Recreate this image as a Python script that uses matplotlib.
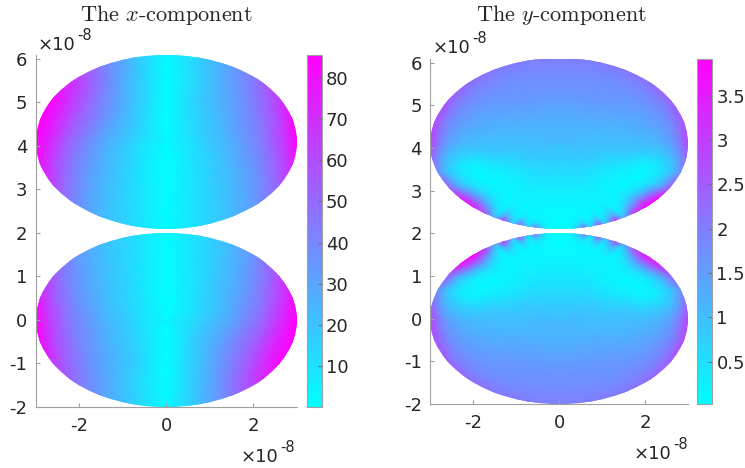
"""Two field components on a pair of ellipses, with cool colorbars."""

import matplotlib

matplotlib.use("Agg")
import matplotlib.pyplot as plt
from matplotlib.patches import Ellipse
import numpy as np

W, H = 745, 468

# grid the fields are read on: angle around the ellipse (deg) and scaled radius
x_angles = [-90, -75, -60, -45, -30, -15, 0, 15, 30, 45, 60, 75, 90]
x_radii = [0, 0.25, 0.5, 0.75, 0.9, 1]

x_right = [
  [1, 1, 1, 1, 1, 1],
  [1, 3, 6, 9, 11, 12],
  [1, 6, 12, 17, 20, 23],
  [1, 9, 17, 25, 31, 36],
  [1, 11, 21, 33, 44, 54],
  [1, 13, 25, 41, 57, 74],
  [1, 14, 27, 46, 66, 85],
  [1, 14, 28, 45, 63, 82],
  [1, 13, 25, 41, 54, 66],
  [1, 11, 22, 33, 42, 48],
  [1, 8, 17, 24, 29, 32],
  [1, 5, 9, 12, 15, 16],
  [1, 1, 1, 1, 1, 1],
]
x_left = [
  [1, 1, 1, 1, 1, 1],
  [1, 3, 6, 9, 11, 12],
  [1, 6, 12, 18, 21, 24],
  [1, 9, 18, 27, 34, 40],
  [1, 11, 23, 37, 50, 62],
  [1, 13, 27, 46, 64, 80],
  [1, 15, 30, 53, 74, 86],
  [1, 16, 33, 57, 77, 85],
  [1, 15, 32, 55, 73, 83],
  [1, 13, 28, 46, 60, 68],
  [1, 9, 20, 32, 40, 44],
  [1, 5, 11, 16, 20, 22],
  [1, 1, 1, 1, 1, 1],
]

y_angles = [-90, -84, -79, -76, -72, -69, -64, -60, -55, -48, -40, -32, -20, -10, 0, 15, 30, 45, 60, 75, 90]
y_radii = [0, 0.3, 0.55, 0.7, 0.8, 0.88, 0.94, 1]

y_right = [
  [1.05, 0.60, 0.30, 0.20, 0.12, 0.08, 0.05, 0.03],
  [1.05, 0.60, 0.30, 0.20, 0.12, 0.10, 0.14, 0.25],
  [1.05, 0.60, 0.30, 0.20, 0.15, 0.25, 0.65, 2.00],
  [1.05, 0.60, 0.30, 0.20, 0.13, 0.13, 0.18, 0.50],
  [1.05, 0.62, 0.30, 0.20, 0.15, 0.40, 1.10, 2.70],
  [1.05, 0.62, 0.30, 0.20, 0.13, 0.15, 0.25, 0.70],
  [1.05, 0.65, 0.30, 0.20, 0.25, 0.70, 1.50, 3.10],
  [1.05, 0.65, 0.30, 0.18, 0.15, 0.18, 0.35, 1.00],
  [1.05, 0.68, 0.28, 0.15, 0.25, 0.70, 1.60, 2.90],
  [1.05, 0.72, 0.25, 0.15, 0.50, 1.50, 2.80, 3.90],
  [1.05, 0.76, 0.28, 0.12, 0.40, 1.40, 2.60, 3.70],
  [1.05, 0.80, 0.35, 0.10, 0.25, 0.75, 1.50, 2.60],
  [1.05, 0.85, 0.60, 0.25, 0.30, 0.60, 1.00, 1.70],
  [1.05, 0.95, 0.85, 0.70, 0.80, 1.05, 1.50, 2.25],
  [1.05, 1.00, 1.00, 1.05, 1.20, 1.55, 2.10, 2.85],
  [1.05, 1.05, 1.15, 1.30, 1.50, 1.70, 2.10, 2.60],
  [1.05, 1.15, 1.30, 1.45, 1.60, 1.80, 2.00, 2.40],
  [1.05, 1.20, 1.45, 1.58, 1.68, 1.80, 1.95, 2.20],
  [1.05, 1.25, 1.55, 1.65, 1.72, 1.82, 1.92, 2.05],
  [1.05, 1.25, 1.55, 1.70, 1.75, 1.85, 1.90, 2.00],
  [1.05, 1.25, 1.55, 1.70, 1.75, 1.85, 1.90, 1.95],
]
y_left = [
  [1.05, 0.60, 0.30, 0.20, 0.12, 0.08, 0.05, 0.03],
  [1.05, 0.60, 0.30, 0.20, 0.12, 0.10, 0.14, 0.25],
  [1.05, 0.60, 0.30, 0.20, 0.15, 0.22, 0.55, 1.80],
  [1.05, 0.60, 0.30, 0.20, 0.13, 0.13, 0.18, 0.50],
  [1.05, 0.62, 0.30, 0.20, 0.15, 0.35, 1.00, 2.40],
  [1.05, 0.62, 0.30, 0.20, 0.13, 0.15, 0.25, 0.70],
  [1.05, 0.65, 0.30, 0.20, 0.25, 0.65, 1.35, 2.80],
  [1.05, 0.65, 0.30, 0.18, 0.15, 0.18, 0.35, 1.00],
  [1.05, 0.68, 0.28, 0.15, 0.25, 0.60, 1.40, 2.60],
  [1.05, 0.72, 0.25, 0.15, 0.45, 1.30, 2.50, 3.50],
  [1.05, 0.76, 0.28, 0.12, 0.40, 1.25, 2.30, 3.40],
  [1.05, 0.80, 0.35, 0.10, 0.25, 0.75, 1.45, 2.45],
  [1.05, 0.85, 0.60, 0.25, 0.30, 0.60, 1.00, 1.70],
  [1.05, 0.95, 0.85, 0.70, 0.80, 1.05, 1.50, 2.25],
  [1.05, 1.00, 1.00, 1.05, 1.20, 1.55, 2.10, 2.90],
  [1.05, 1.05, 1.15, 1.30, 1.50, 1.75, 2.15, 2.70],
  [1.05, 1.15, 1.30, 1.45, 1.62, 1.85, 2.10, 2.50],
  [1.05, 1.20, 1.45, 1.58, 1.70, 1.85, 2.00, 2.25],
  [1.05, 1.25, 1.55, 1.65, 1.72, 1.82, 1.92, 2.05],
  [1.05, 1.25, 1.55, 1.70, 1.75, 1.85, 1.90, 2.00],
  [1.05, 1.25, 1.55, 1.70, 1.75, 1.85, 1.90, 1.95],
]

x_ticks = [-2, 0, 2]
y_ticks = [-2, -1, 0, 1, 2, 3, 4, 5, 6]
x_clim = (0.03, 85.6)
y_clim = (0.023, 3.917)
x_cticks = [10, 20, 30, 40, 50, 60, 70, 80]
y_cticks = [0.5, 1, 1.5, 2, 2.5, 3, 3.5]
y_clabels = ["0.5", "1", "1.5", "2", "2.5", "3", "3.5"]
x_clabels = [str(v) for v in x_cticks]

SEMI_X, SEMI_Y, CENTER_Y = 3.0, 2.0, 4.1
TEXT = "#262626"
AXIS = "#a0a0a0"
LABEL_SIZE = 13

plt.rcParams["axes.unicode_minus"] = False
plt.rcParams["mathtext.fontset"] = "cm"


def px_box(left, right, top, bottom):
  return [left / W, 1 - bottom / H, (right - left) / W, (bottom - top) / H]


def draw_field(ax, angles, radii, right, left, clim):
  # right half runs bottom to top, left half comes back down, closing the loop
  t = np.array(angles, dtype=float)
  theta = np.radians(np.concatenate([t, 180 - t[::-1][1:]]))
  vals = np.vstack([np.array(right), np.array(left)[::-1][1:]])
  # a thin outer ring past the rim, so clipping gives a round edge instead of chords
  vals = np.hstack([vals, vals[:, -1:]])
  rr, tt = np.meshgrid(list(radii) + [1.04], theta)
  xs = SEMI_X * rr * np.cos(tt)
  ys = SEMI_Y * rr * np.sin(tt)
  # upper ellipse, then the lower one is the same field turned by 180 degrees
  mesh = ax.pcolormesh(xs, CENTER_Y + ys, vals, shading="gouraud", cmap="cool", vmin=clim[0], vmax=clim[1])
  lower = ax.pcolormesh(-xs, -ys, vals, shading="gouraud", cmap="cool", vmin=clim[0], vmax=clim[1])
  mesh.set_clip_path(Ellipse((0, CENTER_Y), 2 * SEMI_X, 2 * SEMI_Y, transform=ax.transData))
  lower.set_clip_path(Ellipse((0, 0), 2 * SEMI_X, 2 * SEMI_Y, transform=ax.transData))
  return mesh


def style_axes(ax):
  ax.set_xlim(-3, 3)
  ax.set_ylim(-2, 6.09)
  ax.set_xticks(x_ticks, [str(v) for v in x_ticks])
  ax.set_yticks(y_ticks, [str(v) for v in y_ticks])
  ax.tick_params(direction="in", length=3, width=0.8, color=AXIS, labelcolor=TEXT, labelsize=LABEL_SIZE)
  ax.tick_params(axis="x", pad=7)
  ax.tick_params(axis="y", pad=6)
  for side in ["top", "right"]:
    ax.spines[side].set_visible(False)
  for side in ["left", "bottom"]:
    ax.spines[side].set_color(AXIS)


def exponent(fig, x, y):
  fig.text(x / W, 1 - y / H, "×10", fontsize=LABEL_SIZE, color=TEXT, ha="left", va="baseline")
  fig.text((x + 39) / W, 1 - (y - 10) / H, "-8", fontsize=10.5, color=TEXT, ha="left", va="baseline")


def panel(fig, ax_px, cb_px, angles, radii, right, left, clim, cticks, clabels, title, title_x, title_y):
  ax = fig.add_axes(px_box(*ax_px))
  mesh = draw_field(ax, angles, radii, right, left, clim)
  style_axes(ax)
  cax = fig.add_axes(px_box(*cb_px))
  cb = fig.colorbar(mesh, cax=cax)
  cb.set_ticks(cticks, labels=clabels)
  cb.ax.tick_params(direction="in", length=3, width=0.8, color="#707070", labelcolor=TEXT, labelsize=LABEL_SIZE, pad=3)
  cb.outline.set_edgecolor(AXIS)
  cb.outline.set_linewidth(0.8)
  fig.text(title_x / W, 1 - title_y / H, title, fontsize=16, family="cmr10", color=TEXT, ha="center", va="baseline")


def main():
  fig = plt.figure(figsize=(W / 100, H / 100), dpi=100)
  panel(fig, (35.5, 297, 55, 407), (306.5, 321.5, 55, 407), x_angles, x_radii, x_right, x_left,
        x_clim, x_cticks, x_clabels, r"The $x$-component", 166, 21)
  panel(fig, (430.3, 688.3, 58.7, 404), (697.3, 712.3, 58.7, 404), y_angles, y_radii, y_right, y_left,
        y_clim, y_cticks, y_clabels, r"The $y$-component", 561.5, 21)
  exponent(fig, 38, 50.5)
  exponent(fig, 433, 53)
  exponent(fig, 241, 461.5)
  exponent(fig, 634, 459)
  fig.savefig("out.png", dpi=100)


if __name__ == "__main__":
  main()
